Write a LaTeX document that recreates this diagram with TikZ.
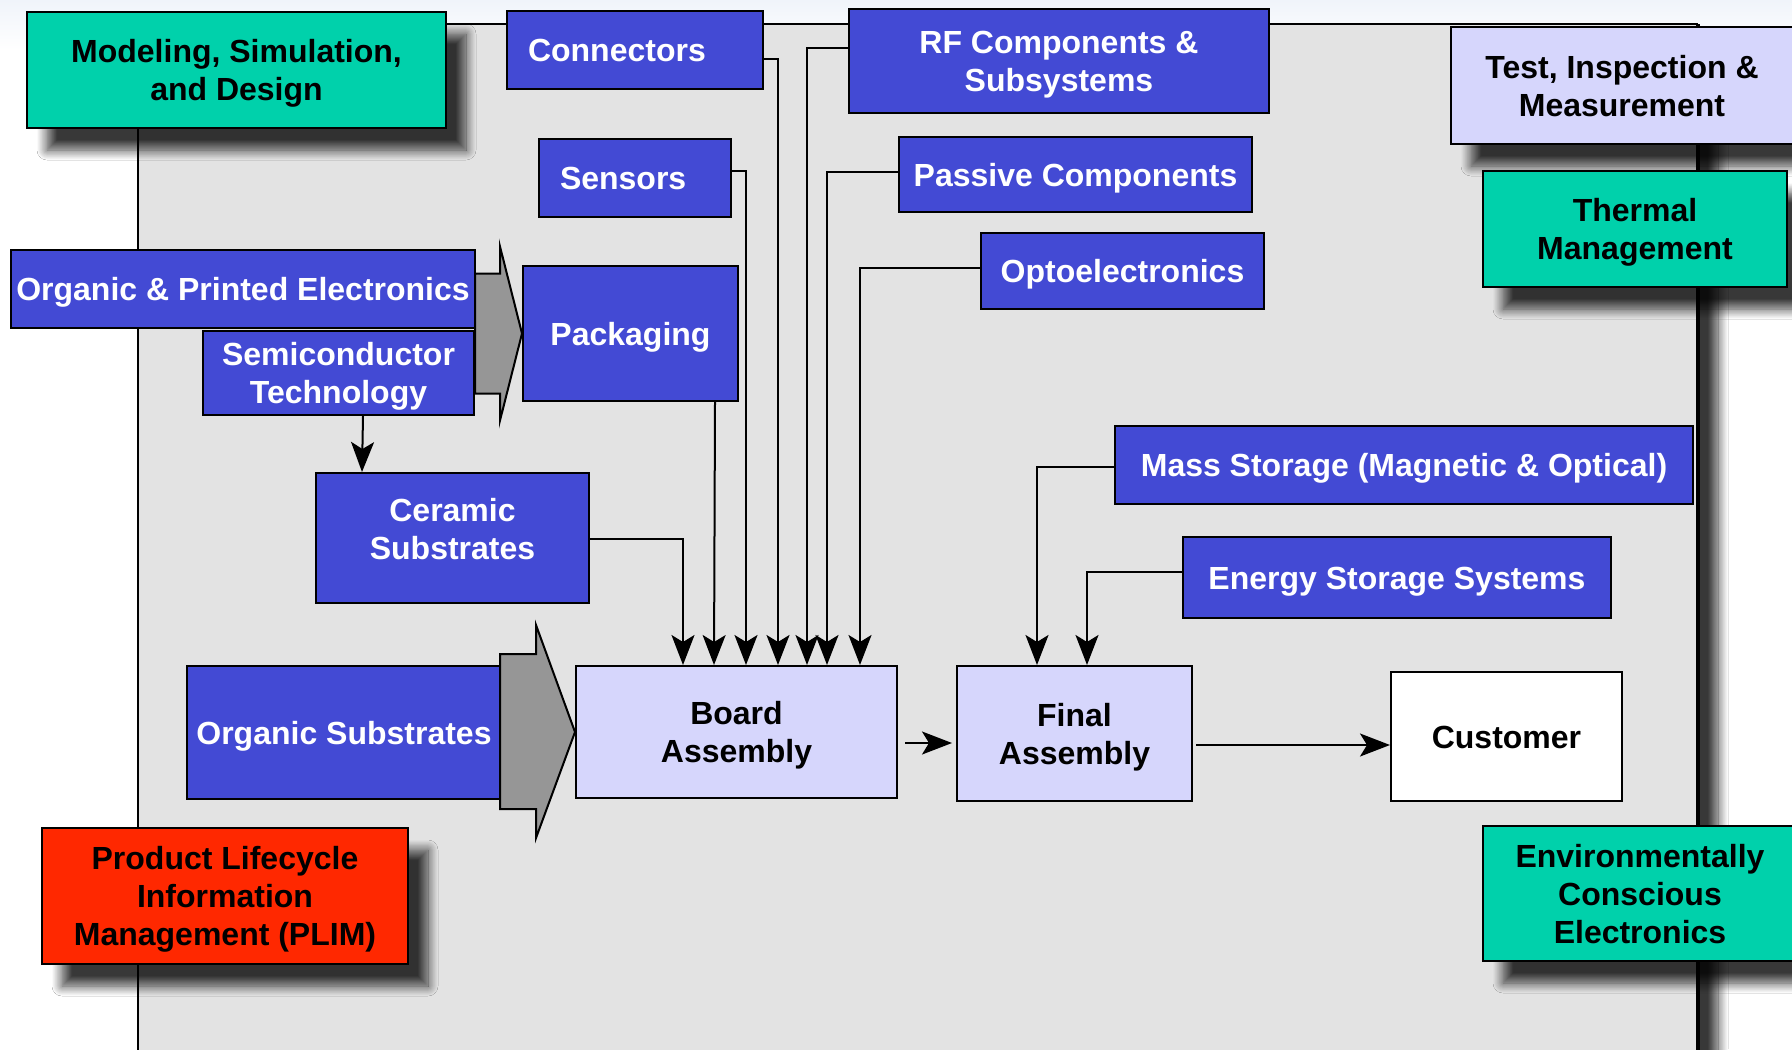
\documentclass[tikz,border=0pt]{standalone}
\usepackage{fontspec}
\newfontfamily\labelfont{Liberation Sans}
\usetikzlibrary{arrows.meta,calc,shadows,shadows.blur}

\definecolor{procblue}{RGB}{67,74,212}
\definecolor{mintgreen}{RGB}{0,209,171}
\definecolor{paleviolet}{RGB}{214,214,252}
\definecolor{plimred}{RGB}{255,40,0}
\definecolor{panelgray}{RGB}{227,227,227}
\definecolor{arrowgray}{RGB}{150,150,150}
\definecolor{paleblue}{RGB}{240,244,250}

% one text line whose box is exactly the cap height, so label blocks centre on their capitals
\newcommand\capline[2][0pt]{\raisebox{0pt}[11.5pt][#1]{#2}}

\begin{document}
\begin{tikzpicture}[x=0.5pt,y=-0.5pt,
  base/.style={draw=black, line width=1pt, rectangle, inner sep=1pt, align=center,
    font=\labelfont\bfseries\fontsize{16pt}{19pt}\selectfont},
  sz/.style 2 args={minimum width=#1*0.5pt, minimum height=#2*0.5pt},
  oneline/.style={text height=11.5pt, text depth=0pt},
  bluebox/.style={fill=procblue, text=white},
  tealbox/.style={fill=mintgreen, text=black},
  lavbox/.style={fill=paleviolet, text=black},
  redbox/.style={fill=plimred, text=black},
  castshadow/.style={blur shadow={shadow xshift=10pt, shadow yshift=-11pt,
    shadow blur radius=5pt, shadow blur steps=12, shadow opacity=78}},
  link/.style={draw=black, line width=1pt,
    -{Stealth[length=15pt,width=11.5pt,inset=3.5pt,color=black,fill=black]}},
  blockarrow/.style={draw=black, line width=1pt, fill=arrowgray, line join=miter},
]
\useasboundingbox (0,0) rectangle (1792,1049);
\clip (0,0) rectangle (1792,1049);

% page background
\fill[white] (0,0) rectangle (1792,1049);
\shade[top color=paleblue, bottom color=white] (0,0) rectangle (1792,50);

% grey process panel
\path[fill=panelgray, castshadow] (138,24) rectangle (1698,1100);
\draw[line width=1pt] (138,1100) -- (138,24) -- (1698,24);
\draw[line width=1.6pt] (1698,24) -- (1698,1100);

% boxes
\node[base, tealbox, castshadow, sz={419}{116}] (model) at (236.5,70)
  {\capline{Modeling, Simulation,}\\\capline{and Design}};
\node[base, bluebox, oneline, align=left, text width=107pt, inner xsep=10.5pt, minimum height=39pt] (conn) at (635,50) {Connectors};
\node[base, bluebox, oneline, align=left, text width=75pt, inner xsep=10.5pt, minimum height=39pt] (sens) at (635,178) {Sensors};
\node[base, bluebox, sz={215}{135}, oneline] (pack) at (630.5,333.5) {Packaging};
\node[base, bluebox, sz={420}{104}] (rf) at (1059,61)
  {\capline{RF Components \&}\\\capline{Subsystems}};
\node[base, bluebox, sz={353}{75}, oneline] (pass) at (1075.5,174.5) {Passive Components};
\node[base, bluebox, sz={283}{76}, oneline] (opto) at (1122.5,271) {Optoelectronics};
\node[base, lavbox, castshadow, sz={342}{117}] (test) at (1622,85.5)
  {\capline{Test, Inspection \&}\\\capline{Measurement}};
\node[base, tealbox, castshadow, sz={304}{116}] (therm) at (1635,229)
  {\capline{Thermal}\\\capline{Management}};
\node[base, bluebox, sz={464}{78}, oneline] (ope) at (243,289) {Organic \& Printed Electronics};
\node[base, bluebox, sz={271}{84}] (semi) at (338.5,373)
  {\capline{Semiconductor}\\\capline{Technology}};
\node[base, bluebox, sz={273}{130}] (cer) at (452.5,538)
  {\capline{Ceramic}\\\capline[9pt]{Substrates}};
\node[base, bluebox, sz={314}{133}, oneline] (orgsub) at (344,732.5) {Organic Substrates};
\node[base, lavbox, sz={321}{132}] (board) at (736.5,732)
  {\capline{Board}\\\capline{Assembly}};
\node[base, lavbox, sz={235}{135}] (final) at (1074.5,733.5)
  {\capline{Final}\\\capline{Assembly}};
\node[base, fill=white, text=black, sz={231}{129}, oneline] (cust) at (1506.5,736.5) {Customer};
\node[base, bluebox, sz={578}{78}, oneline] (mass) at (1404,465) {Mass Storage (Magnetic \& Optical)};
\node[base, bluebox, sz={428}{81}, oneline] (energy) at (1397,577.5) {Energy Storage Systems};
\node[base, redbox, castshadow, sz={366}{136}] (plim) at (225,896)
  {\capline{Product Lifecycle}\\\capline{Information}\\\capline{Management (PLIM)}};
\node[base, tealbox, castshadow, sz={314}{135}] (env) at (1640,893.5)
  {\capline{Environmentally}\\\capline{Conscious}\\\capline{Electronics}};

% broad grey arrows into packaging and board assembly
\draw[blockarrow] (pack.west) -- ++(-22,-87) -- ++(0,27) -- ++(-25,0) -- ++(0,120)
  -- ++(25,0) -- ++(0,27) -- cycle;
\draw[blockarrow] (board.west) -- ++(-39,-107) -- ++(0,29) -- ++(-36,0) -- ++(0,155)
  -- ++(36,0) -- ++(0,29) -- cycle;

% feeds into board assembly
\draw[link] ($(cer.east)+(0,1)$) -| ($(board.north west)+(108,0)$);
\draw[link] ($(pack.south)+(84.5,0)$) -- ($(board.north west)+(139,0)$);
\draw[link] ($(sens.east)+(0,-7)$) -| ($(board.north west)+(171,0)$);
\draw[link] ($(conn.east)+(0,9)$) -| ($(board.north west)+(203,0)$);
\draw[link] ($(rf.west)+(0,-13)$) -| ($(board.north west)+(232,0)$);
\draw[link] ($(pass.west)+(0,-2.5)$) -| ($(board.north west)+(252,0)$);
\draw[link] ($(opto.west)+(0,-3)$) -| ($(board.north west)+(285,0)$);
\draw[link] ($(semi.south)+(24.5,0)$) -- ($(cer.north west)+(47,0)$);

% feeds into final assembly
\draw[link] ($(mass.west)+(0,2)$) -| ($(final.north west)+(81,0)$);
\draw[link] ($(energy.west)+(0,-5.5)$) -| ($(final.north west)+(131,0)$);

% main flow
\draw[link, shorten <=3.5pt, shorten >=2pt] ($(board.east)+(0,11)$) -- ($(final.west)+(0,9.5)$);
\draw[link, shorten <=1.5pt] ($(final.east)+(0,11.5)$) -- ($(cust.west)+(0,8.5)$);
\end{tikzpicture}
\end{document}
